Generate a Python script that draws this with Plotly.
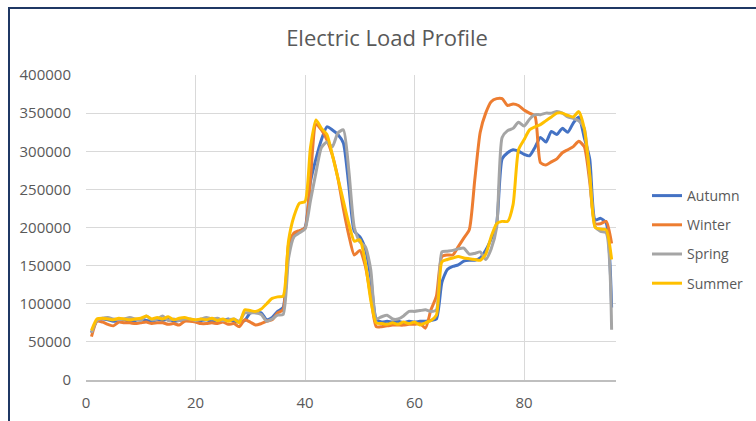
import plotly.graph_objects as go

x_vals = list(range(1, 97))

autumn = [62, 78, 80, 79, 77, 78, 79, 77, 78, 80,
          78, 77, 79, 78, 80, 77, 78, 79, 78, 77,
          78, 79, 77, 79, 78, 80, 77, 76, 78, 88,
          89, 88, 79, 82, 90, 95, 170, 192, 195, 200,
          260, 290, 315, 332, 328, 322, 311, 255, 195, 188,
          172, 135, 80, 76, 77, 76, 77, 75, 77, 76,
          77, 77, 78, 80, 128, 145, 149, 151, 156, 157,
          157, 160, 170, 185, 205, 290, 298, 302, 300, 296,
          294, 305, 318, 312, 326, 322, 330, 325, 337, 345,
          318, 290, 210, 212, 206, 95]

winter = [57, 77, 76, 73, 71, 76, 75, 75, 74, 75,
          76, 74, 75, 75, 73, 74, 72, 77, 77, 76,
          74, 74, 75, 74, 76, 73, 74, 70, 79, 76,
          72, 74, 77, 79, 88, 92, 178, 193, 196, 199,
          265, 335, 328, 315, 295, 265, 225, 190, 164, 170,
          150, 110, 70, 70, 71, 72, 72, 72, 73, 73,
          74, 68, 92, 110, 162, 164, 164, 175, 186, 197,
          262, 325, 350, 365, 369, 369, 360, 362, 360, 354,
          350, 346, 285, 282, 286, 290, 298, 302, 306, 313,
          306, 260, 205, 205, 208, 179]

spring = [62, 78, 81, 82, 80, 79, 80, 82, 80, 78,
          84, 79, 80, 84, 78, 80, 78, 80, 80, 78,
          80, 82, 80, 81, 78, 79, 80, 77, 88, 88,
          88, 86, 77, 80, 85, 86, 160, 188, 193, 198,
          235, 272, 305, 312, 306, 324, 328, 275, 200, 181,
          175, 145, 80, 83, 85, 80, 80, 84, 90, 90,
          91, 92, 90, 92, 168, 169, 170, 172, 173, 165,
          166, 168, 158, 172, 200, 318, 327, 330, 338, 333,
          342, 348, 348, 350, 350, 352, 350, 345, 343, 340,
          330, 267, 201, 195, 193, 66]

summer = [65, 80, 81, 80, 79, 81, 80, 79, 80, 81,
          84, 80, 82, 80, 83, 79, 81, 82, 80, 79,
          80, 79, 81, 78, 80, 77, 80, 75, 92, 91,
          90, 93, 100, 107, 109, 110, 183, 215, 232, 234,
          305, 341, 330, 322, 295, 265, 235, 205, 182, 184,
          155, 105, 75, 74, 73, 75, 73, 76, 74, 76,
          72, 75, 78, 85, 155, 158, 160, 162, 160, 159,
          158, 157, 165, 188, 205, 208, 208, 230, 302, 315,
          328, 332, 335, 340, 345, 350, 350, 347, 345, 352,
          330, 270, 200, 198, 197, 158]

series_names = ["Autumn", "Winter", "Spring", "Summer"]
series_values = [autumn, winter, spring, summer]
series_colors = ["#4472C4", "#ED7D31", "#A5A5A5", "#FFC000"]

y_ticks = [0, 50000, 100000, 150000, 200000, 250000, 300000, 350000, 400000]
x_ticks = [0, 20, 40, 60, 80]

FONT = "Open Sans"
GREY_TXT = "#595959"

fig = go.Figure()
for i, (name, vals, col) in enumerate(zip(series_names, series_values, series_colors)):
    fig.add_trace(go.Scatter(
        x=x_vals, y=[v * 1000 for v in vals], name=name, mode="lines",
        line=dict(color=col, width=3, shape="spline", smoothing=0.6),
        legendgroup=f"g{i}",
    ))

# plot area: left 86, right 616, top 75, bottom 380
L, R, T, B = 86, 616, 75, 380
W, H = 756, 421
pw, ph = R - L, B - T

def px2paper_x(px):
    return (px - L) / pw

def px2paper_y(py):
    return (B - py) / ph

fig.update_layout(
    width=W, height=H,
    margin=dict(l=L, r=W - R, t=T, b=H - B, autoexpand=False),
    paper_bgcolor="white", plot_bgcolor="white",
    font=dict(family=FONT, color=GREY_TXT, size=14),
    title=dict(text="Electric Load Profile", x=px2paper_x(387), xref="paper",
               xanchor="center", y=1 - 38 / H, yanchor="middle",
               font=dict(size=22, color=GREY_TXT, family=FONT)),
    showlegend=True,
    legend=dict(x=px2paper_x(647), y=px2paper_y(180), xanchor="left", yanchor="top",
                font=dict(size=14, color=GREY_TXT, family=FONT),
                tracegroupgap=8, bgcolor="rgba(0,0,0,0)"),
    xaxis=dict(range=[0, 96.8], tickvals=x_ticks, ticktext=[str(t) for t in x_ticks],
               showgrid=True, gridcolor="#D9D9D9", gridwidth=1,
               showline=True, linecolor="#BFBFBF", linewidth=1.5,
               zeroline=False, ticks="", ticklabelstandoff=8,
               tickfont=dict(size=15, color=GREY_TXT, family=FONT)),
    yaxis=dict(range=[0, 400000], tickvals=y_ticks, ticktext=[str(t) for t in y_ticks],
               showgrid=True, gridcolor="#D9D9D9", gridwidth=1,
               zeroline=False, showline=False, ticks="", ticklabelstandoff=14,
               tickfont=dict(size=15, color=GREY_TXT, family=FONT)),
    shapes=[
        dict(type="rect", xref="paper", yref="paper",
             x0=px2paper_x(9), x1=px2paper_x(800),
             y0=px2paper_y(460), y1=px2paper_y(8),
             line=dict(color="#1F3864", width=2), fillcolor="rgba(0,0,0,0)", layer="below"),
    ],
)

fig.write_html("out.html")
